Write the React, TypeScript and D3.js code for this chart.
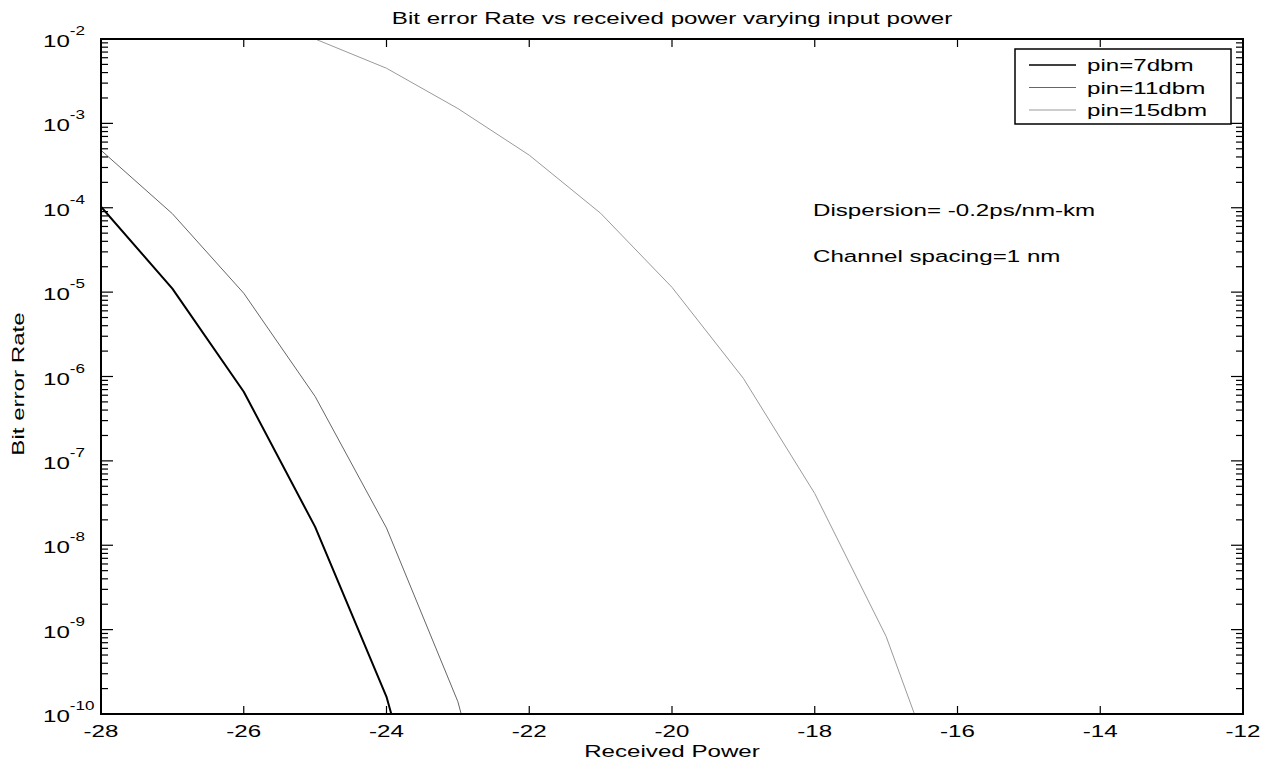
import React from "react";
import * as d3 from "d3";

const xTicks = [-28, -26, -24, -22, -20, -18, -16, -14, -12];
const yExponents = [-2, -3, -4, -5, -6, -7, -8, -9, -10];

const receivedPower7 = [-28, -27, -26, -25, -24, -23];
const ber7 = [1.03e-4, 1.1e-5, 6.6e-7, 1.65e-8, 1.6e-10, 1.5e-13];

const receivedPower11 = [-28, -27, -26, -25, -24, -23, -22];
const ber11 = [4.8e-4, 8.5e-5, 9.7e-6, 5.8e-7, 1.6e-8, 1.4e-10, 1e-13];

const receivedPower15 = [-25, -24, -23, -22, -21, -20, -19, -18, -17, -16];
const ber15 = [1.0e-2, 4.5e-3, 1.5e-3, 4.2e-4, 8.6e-5, 1.14e-5, 9.5e-7, 4.1e-8, 8.3e-10, 4e-12];

const legendLabels = ["pin=7dbm", "pin=11dbm", "pin=15dbm"];
const seriesColors = ["#000000", "#666666", "#9a9a9a"];
const seriesWidths = [2, 1, 1];

const titleText = "Bit error Rate vs received power varying input power";
const xLabel = "Received Power";
const yLabel = "Bit error Rate";
const notes = ["Dispersion= -0.2ps/nm-km", "Channel spacing=1 nm"];

const W = 1263;
const H = 765;
const L = 101, R = 1243, T = 39, B = 714;
const S = 1.42; // horizontal text stretch
const FS = 17;
const FONT = "'Liberation Sans', Arial, Helvetica, sans-serif";

function Txt({ x, y, anchor = "start", size = FS, children, rot = false }: any) {
  const tf = rot
    ? `translate(${x},${y}) rotate(-90) scale(${S},1)`
    : `translate(${x},${y}) scale(${S},1)`;
  return (
    <text transform={tf} textAnchor={anchor} fontSize={size} fontFamily={FONT} fill="#000">
      {children}
    </text>
  );
}

export default function App() {
  const x = d3.scaleLinear().domain([-28, -12]).range([L, R]);
  const y = d3.scaleLog().domain([1e-10, 1e-2]).range([B, T]);

  const line = d3
    .line<[number, number]>()
    .x((d) => x(d[0]))
    .y((d) => y(d[1]));

  const series = [
    d3.zip(receivedPower7, ber7) as [number, number][],
    d3.zip(receivedPower11, ber11) as [number, number][],
    d3.zip(receivedPower15, ber15) as [number, number][],
  ];

  const minorTicks: number[] = [];
  for (let e = -10; e < -2; e++) {
    for (let k = 2; k <= 9; k++) minorTicks.push(k * Math.pow(10, e));
  }

  const majorLenY = 12, minorLenY = 7, lenX = 8;

  return (
    <div style={{ position: "absolute", left: 0, top: 0 }}>
      <svg width={W} height={H} style={{ display: "block", background: "#fff" }}>
        <defs>
          <clipPath id="plotclip">
            <rect x={L} y={T} width={R - L} height={B - T} />
          </clipPath>
        </defs>
        <rect x={0} y={0} width={W} height={H} fill="#fff" />

        {/* series */}
        <g clipPath="url(#plotclip)">
          {series.map((s, i) => (
            <path
              key={i}
              d={line(s) || ""}
              fill="none"
              stroke={seriesColors[i]}
              strokeWidth={seriesWidths[i]}
              strokeLinejoin="round"
            />
          ))}
        </g>

        {/* ticks */}
        <g stroke="#000" strokeWidth={1.2}>
          {xTicks.map((t) => (
            <g key={"xt" + t}>
              <line x1={x(t)} x2={x(t)} y1={B} y2={B - lenX} />
              <line x1={x(t)} x2={x(t)} y1={T} y2={T + lenX} />
            </g>
          ))}
          {yExponents.map((e) => {
            const yy = y(Math.pow(10, e));
            return (
              <g key={"yt" + e}>
                <line x1={L} x2={L + majorLenY} y1={yy} y2={yy} />
                <line x1={R} x2={R - majorLenY} y1={yy} y2={yy} />
              </g>
            );
          })}
          {minorTicks.map((v, i) => {
            const yy = y(v);
            return (
              <g key={"ym" + i}>
                <line x1={L} x2={L + minorLenY} y1={yy} y2={yy} />
                <line x1={R} x2={R - minorLenY} y1={yy} y2={yy} />
              </g>
            );
          })}
        </g>

        {/* box */}
        <rect x={L} y={T} width={R - L} height={B - T} fill="none" stroke="#000" strokeWidth={2} />

        {/* x tick labels */}
        {xTicks.map((t) => (
          <Txt key={"xl" + t} x={x(t)} y={737} anchor="middle">
            {String(t)}
          </Txt>
        ))}

        {/* y tick labels */}
        {yExponents.map((e) => {
          const yy = y(Math.pow(10, e));
          return (
            <text
              key={"yl" + e}
              transform={`translate(43,${yy + 8}) scale(${S},1)`}
              fontSize={FS}
              fontFamily={FONT}
              fill="#000"
            >
              10
              <tspan fontSize={12} dy={-12}>
                {String(e)}
              </tspan>
            </text>
          );
        })}

        {/* title & labels */}
        <Txt x={(L + R) / 2} y={24} anchor="middle">{titleText}</Txt>
        <Txt x={(L + R) / 2} y={757} anchor="middle">{xLabel}</Txt>
        <Txt x={24} y={384} anchor="middle" rot>{yLabel}</Txt>

        {/* annotations */}
        <Txt x={813} y={216}>{notes[0]}</Txt>
        <Txt x={813} y={262}>{notes[1]}</Txt>

        {/* legend */}
        <rect x={1015} y={49} width={216} height={75} fill="#fff" stroke="#000" strokeWidth={1.5} />
        {legendLabels.map((lab, i) => {
          const yy = 65 + i * 22.5;
          return (
            <g key={"lg" + i}>
              <line x1={1029} x2={1076} y1={yy} y2={yy} stroke={seriesColors[i]} strokeWidth={i === 0 ? 1.5 : 1} />
              <Txt x={1087} y={yy + 6}>{lab}</Txt>
            </g>
          );
        })}
      </svg>
    </div>
  );
}
